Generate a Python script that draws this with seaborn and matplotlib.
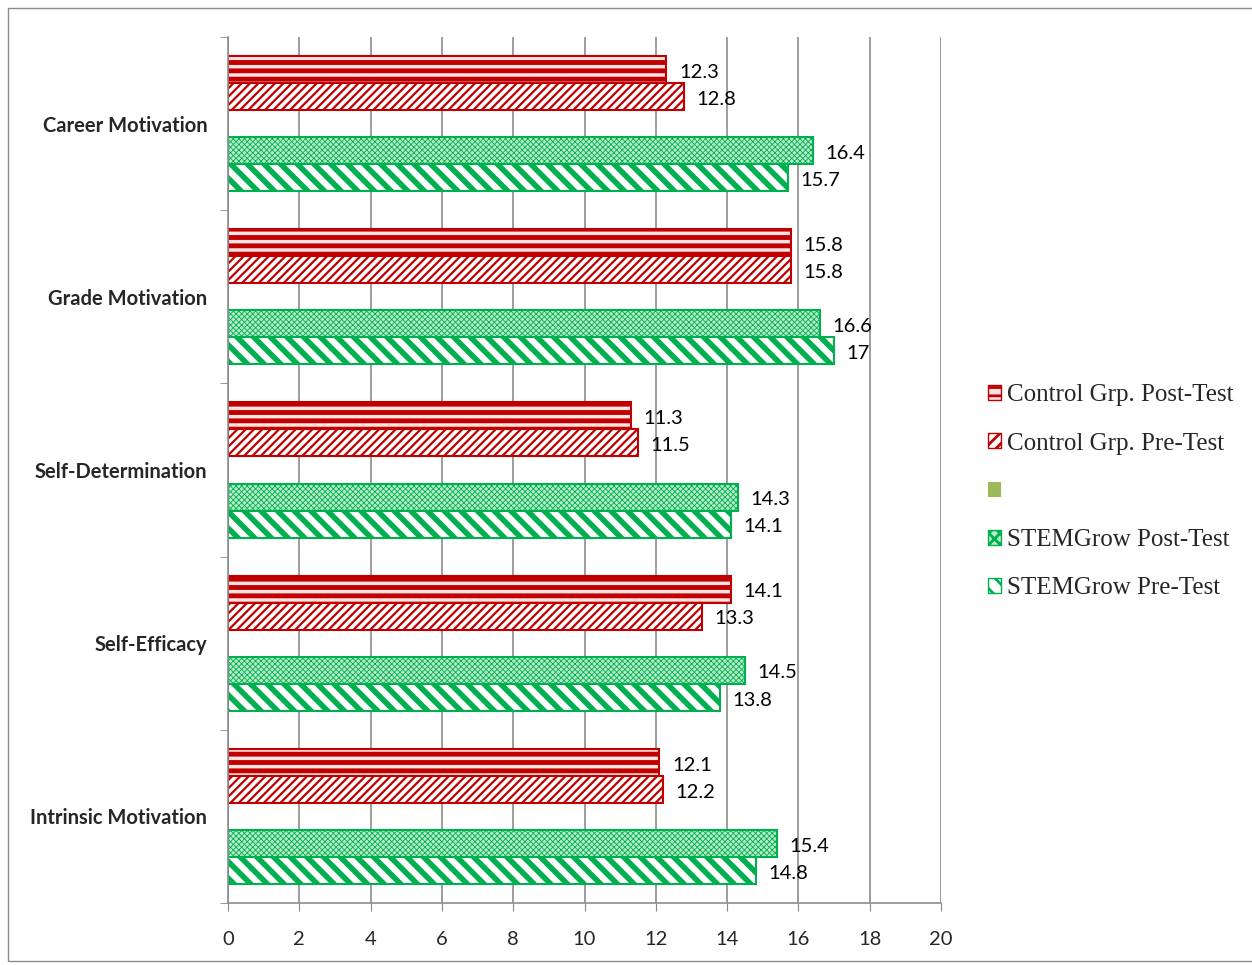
import matplotlib
matplotlib.use("Agg")
import matplotlib.pyplot as plt
import seaborn as sns
import pandas as pd
from matplotlib.patches import Patch, Rectangle

categories = ["Career Motivation", "Grade Motivation", "Self-Determination",
              "Self-Efficacy", "Intrinsic Motivation"]
series = ["Control Grp. Post-Test", "Control Grp. Pre-Test", " ",
          "STEMGrow Post-Test", "STEMGrow Pre-Test"]
control_post = [12.3, 15.8, 11.3, 14.1, 12.1]
control_pre = [12.8, 15.8, 11.5, 13.3, 12.2]
empty_series = [0, 0, 0, 0, 0]
stem_post = [16.4, 16.6, 14.3, 14.5, 15.4]
stem_pre = [15.7, 17.0, 14.1, 13.8, 14.8]
x_ticks = [0, 2, 4, 6, 8, 10, 12, 14, 16, 18, 20]

values = [control_post, control_pre, empty_series, stem_post, stem_pre]
rows = []
for s, vals in zip(series, values):
    for c, v in zip(categories, vals):
        rows.append({"cat": c, "series": s, "value": v})
df = pd.DataFrame(rows)

sns.set_style("white")
plt.rcParams["hatch.linewidth"] = 2.0

fig = plt.figure(figsize=(12.52, 9.65), dpi=100)
ax = fig.add_axes([228/1252, 1-903/965, (941-228)/1252, (903-37)/965])

red = "#C00000"
green = "#00B050"
styles = [
    dict(face="#fbe3e3", edge=red, hatch="--", hlw=3.5),
    dict(face="white", edge=red, hatch="////", hlw=1.6),
    dict(face="#9BBB59", edge="#9BBB59", hatch="", hlw=1.0),
    dict(face="#b7ebc8", edge=green, hatch="xxxxxx", hlw=0.6),
    dict(face="white", edge=green, hatch="\\\\", hlw=4.0),
]
palette = {s: st["face"] for s, st in zip(series, styles)}

sns.barplot(data=df, y="cat", x="value", hue="series", hue_order=series,
            order=categories, orient="h", palette=palette, width=0.78,
            legend=False, ax=ax, saturation=1, errorbar=None)

for cont, st, vals, s in zip(ax.containers, styles, values, series):
    for bar in cont:
        bar.set_facecolor(st["face"])
        bar.set_edgecolor(st["edge"])
        bar.set_hatch(st["hatch"])
        bar.set_linewidth(1.5 if st["hatch"] else 0)
        if hasattr(bar, "set_hatch_linewidth"):
            bar.set_hatch_linewidth(st["hlw"])
    if s.strip():
        labels = [("%g" % v) for v in vals]
        anns = ax.bar_label(cont, labels=labels, padding=9, fontsize=14.5,
                            family="Lato", color="black")
        for a in anns:
            a.xyann = (9, -2)

ax.set_xlim(0, 20)
ax.set_ylim(4.5, -0.5)
ax.set_xticks(x_ticks)
ax.set_xticklabels([str(t) for t in x_ticks], fontsize=14.5, family="Lato")
ax.set_yticks(range(len(categories)))
ax.set_yticklabels(categories, fontsize=14.5, fontweight="bold", family="Lato")
ax.set_yticks([i - 0.5 for i in range(len(categories) + 1)], minor=True)
ax.tick_params(axis="y", which="major", length=0, pad=15)
ax.tick_params(axis="y", which="minor", length=6, color="#888888", direction="out", left=True)
ax.tick_params(axis="x", which="major", length=6, color="#888888", direction="out", bottom=True, pad=14)
ax.set_xlabel("")
ax.set_ylabel("")
ax.grid(axis="x", color="#8c8c8c", linewidth=1.2)
ax.set_axisbelow(True)
for side in ["top", "right"]:
    ax.spines[side].set_visible(False)
for side in ["left", "bottom"]:
    ax.spines[side].set_color("#8c8c8c")
    ax.spines[side].set_linewidth(1.2)

handles = []
for st in styles:
    h = Patch(facecolor=st["face"], edgecolor=st["edge"],
              hatch=(st["hatch"][:3] if st["hatch"] else ""),
              linewidth=1.0 if st["hatch"] else 0)
    handles.append(h)
leg = fig.legend(handles, series, loc="center left",
                 bbox_to_anchor=(965/1252, 1-492/965), frameon=False,
                 prop={"family": "Liberation Serif", "size": 18},
                 handlelength=0.55, handleheight=0.55, labelspacing=1.05,
                 handletextpad=0.22)

fig.patches.append(Rectangle((8/1252, 4/965), 1250/1252, 953/965,
                             transform=fig.transFigure, fill=False,
                             edgecolor="#8c8c8c", linewidth=1.0))

fig.savefig("out.png", dpi=100)
